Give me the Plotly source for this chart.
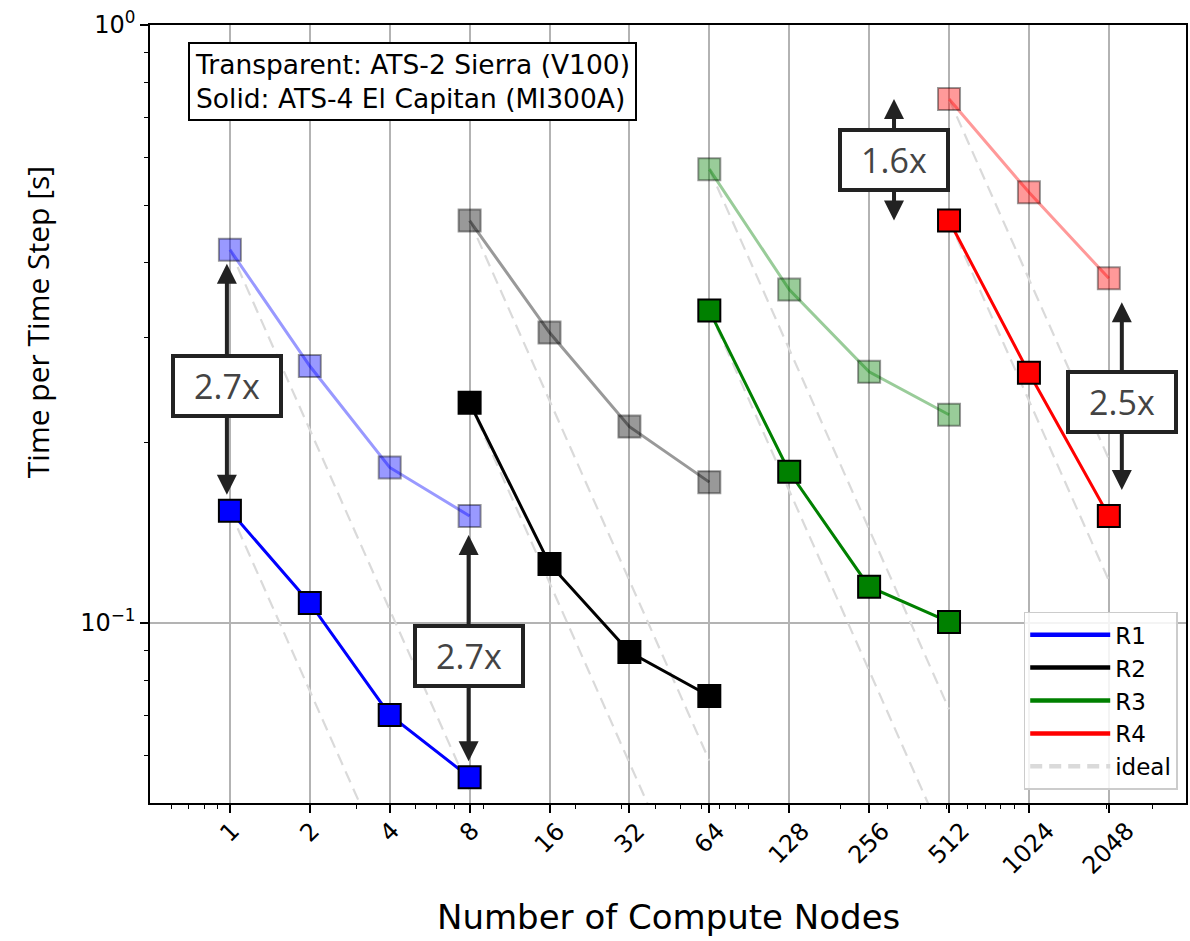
import math
import plotly.graph_objects as go

# ---- data -------------------------------------------------------------
series_names = ["R1", "R2", "R3", "R4"]
series_colors = ["#0000ff", "#000000", "#008000", "#ff0000"]
series_rgba = ["rgba(0,0,255,0.4)", "rgba(0,0,0,0.4)", "rgba(0,128,0,0.4)", "rgba(255,0,0,0.4)"]

r1_nodes = [1, 2, 4, 8]
r1_sierra = [0.421, 0.269, 0.182, 0.151]
r1_elcap = [0.154, 0.108, 0.0702, 0.0552]

r2_nodes = [8, 16, 32, 64]
r2_sierra = [0.471, 0.306, 0.213, 0.172]
r2_elcap = [0.2335, 0.1255, 0.0894, 0.0755]

r3_nodes = [64, 128, 256, 512]
r3_sierra = [0.574, 0.361, 0.263, 0.223]
r3_elcap = [0.333, 0.179, 0.115, 0.1004]

r4_nodes = [512, 1024, 2048]
r4_sierra = [0.752, 0.525, 0.377]
r4_elcap = [0.471, 0.262, 0.151]

x_ticks = [1, 2, 4, 8, 16, 32, 64, 128, 256, 512, 1024, 2048]

groups = [
    (r1_nodes, r1_sierra, r1_elcap),
    (r2_nodes, r2_sierra, r2_elcap),
    (r3_nodes, r3_sierra, r3_elcap),
    (r4_nodes, r4_sierra, r4_elcap),
]

# speed-up callouts: (series index, node count)
speedup_points = [(0, 1), (0, 8), (3, 512), (3, 2048)]
# placement of each callout (pixel offsets / arrow standoffs)
speedup_style = [
    dict(xshift=-3, yshift=-6, st_top=14, st_bot=16),
    dict(xshift=-1, yshift=-9, st_top=19, st_bot=16),
    dict(xshift=-55, yshift=0, st_top=0, st_bot=0),
    dict(xshift=13, yshift=-5, st_top=24, st_bot=26),
]

IDEAL_COLOR = "#dadada"
TICK_FONT = dict(family="DejaVu Sans", size=24, color="black")

fig = go.Figure()

# ideal scaling lines from the first point of each run
for nodes, sierra, elcap in groups:
    for base in (sierra[0], elcap[0]):
        fig.add_trace(go.Scatter(
            x=nodes, y=[base * nodes[0] / n for n in nodes],
            mode="lines", line=dict(color=IDEAL_COLOR, width=2.2, dash="12px,7px"),
            showlegend=False, hoverinfo="skip"))

# Sierra (transparent) then El Capitan (solid)
for i, (nodes, sierra, elcap) in enumerate(groups):
    fig.add_trace(go.Scatter(
        x=nodes, y=sierra, mode="lines+markers",
        line=dict(color=series_rgba[i], width=3),
        marker=dict(symbol="square", size=22, color=series_rgba[i],
                    line=dict(color="rgba(0,0,0,0.4)", width=2)),
        showlegend=False))
for i, (nodes, sierra, elcap) in enumerate(groups):
    fig.add_trace(go.Scatter(
        x=nodes, y=elcap, mode="lines+markers",
        line=dict(color=series_colors[i], width=3),
        marker=dict(symbol="square", size=22, color=series_colors[i],
                    line=dict(color="black", width=2)),
        showlegend=False))

# legend entries
for i, name in enumerate(series_names):
    fig.add_trace(go.Scatter(x=[None], y=[None], mode="lines", name=name,
                             legendgroup=name,
                             line=dict(color=series_colors[i], width=4.5)))
fig.add_trace(go.Scatter(x=[None], y=[None], mode="lines", name="ideal",
                         legendgroup="ideal",
                         line=dict(color=IDEAL_COLOR, width=4.5, dash="12px,7px")))

annotations = []

# speed-up arrows and boxes
boxes = []
for (gi, n), st in zip(speedup_points, speedup_style):
    nodes, sierra, elcap = groups[gi]
    k = nodes.index(n)
    top, bot = sierra[k], elcap[k]
    ymid = (math.log10(top) + math.log10(bot)) / 2
    lx = math.log10(n)
    for yv, so in ((top, st["st_top"]), (bot, st["st_bot"])):
        annotations.append(dict(
            x=lx, y=math.log10(yv), xref="x", yref="y",
            ax=lx, ay=ymid, axref="x", ayref="y",
            text="", showarrow=True, arrowhead=2, arrowsize=1.0,
            arrowwidth=4, arrowcolor="#222222", standoff=so,
            xshift=st["xshift"]))
    boxes.append(dict(
        x=lx, y=ymid, xref="x", yref="y", showarrow=False,
        text=f"{top / bot:.1f}x", xshift=st["xshift"], yshift=st["yshift"],
        font=dict(family="Open Sans", size=34, color="#444444"),
        bgcolor="white", bordercolor="#222222", borderwidth=4,
        borderpad=1, width=102, height=54))
annotations += boxes

# system legend box
annotations.append(dict(
    x=0.0366, y=0.978, xref="paper", yref="paper", xanchor="left", yanchor="top",
    showarrow=False, align="left",
    text="Transparent: ATS-2 Sierra (V100)<br>Solid: ATS-4 El Capitan (MI300A)",
    font=dict(family="DejaVu Sans", size=26.5, color="black"),
    bgcolor="white", bordercolor="black", borderwidth=2, borderpad=5))

# rotated x tick labels, centred on their ticks
for t in x_ticks:
    annotations.append(dict(
        x=math.log10(t), y=0, xref="x", yref="paper", yanchor="top",
        xanchor="center", yshift=-11, textangle=-45, showarrow=False,
        text=str(t), font=TICK_FONT))

# axis titles
annotations.append(dict(
    x=0.5, y=0, xref="paper", yref="paper", yanchor="middle", yshift=-114,
    showarrow=False, text="Number of Compute Nodes",
    font=dict(family="DejaVu Sans", size=34, color="black")))
annotations.append(dict(
    x=0, y=0.618, xref="paper", yref="paper", xanchor="center", xshift=-113,
    textangle=-90, showarrow=False, text="Time per Time Step [s]",
    font=dict(family="Open Sans", size=30, color="black")))

x_minor = [d * 10 ** e for e in range(-1, 4) for d in range(2, 10)
           if 0.5 < d * 10 ** e < 4000 and d * 10 ** e not in x_ticks]
y_minor = [d * 10 ** e for e in (-2, -1) for d in range(2, 10)
           if 0.05 < d * 10 ** e < 1]

fig.update_xaxes(
    type="log", range=[math.log10(0.5), math.log10(4000)],
    tickvals=x_ticks, showticklabels=False, ticks="outside", ticklen=8,
    tickwidth=1.5, tickcolor="black",
    showgrid=True, gridcolor="#b3b3b3", gridwidth=2,
    showline=True, linecolor="black", linewidth=1.5, mirror=True,
    zeroline=False,
    minor=dict(tickvals=x_minor, ticks="outside", ticklen=4, tickwidth=1.2,
               tickcolor="black", showgrid=False))
fig.update_yaxes(
    type="log", range=[math.log10(0.05), 0],
    tickvals=[0.1, 1], ticktext=["10<sup>−1</sup>", "10<sup>0</sup>"],
    tickfont=TICK_FONT, ticks="outside", ticklen=8, tickwidth=1.5,
    tickcolor="black",
    showgrid=True, gridcolor="#b3b3b3", gridwidth=2,
    showline=True, linecolor="black", linewidth=1.5, mirror=True,
    zeroline=False,
    minor=dict(tickvals=y_minor, ticks="outside", ticklen=4, tickwidth=1.2,
               tickcolor="black", showgrid=False))

fig.update_layout(
    width=1190, height=941,
    margin=dict(l=150, r=2, t=25, b=138),
    paper_bgcolor="white", plot_bgcolor="white",
    annotations=annotations,
    legend=dict(x=0.992, y=0.017, xanchor="right", yanchor="bottom",
                bgcolor="rgba(255,255,255,0.85)", bordercolor="#cccccc",
                borderwidth=1.5,
                font=dict(family="DejaVu Sans", size=23, color="black"),
                traceorder="normal", tracegroupgap=14, itemwidth=80),
)

fig.write_html("out.html")
